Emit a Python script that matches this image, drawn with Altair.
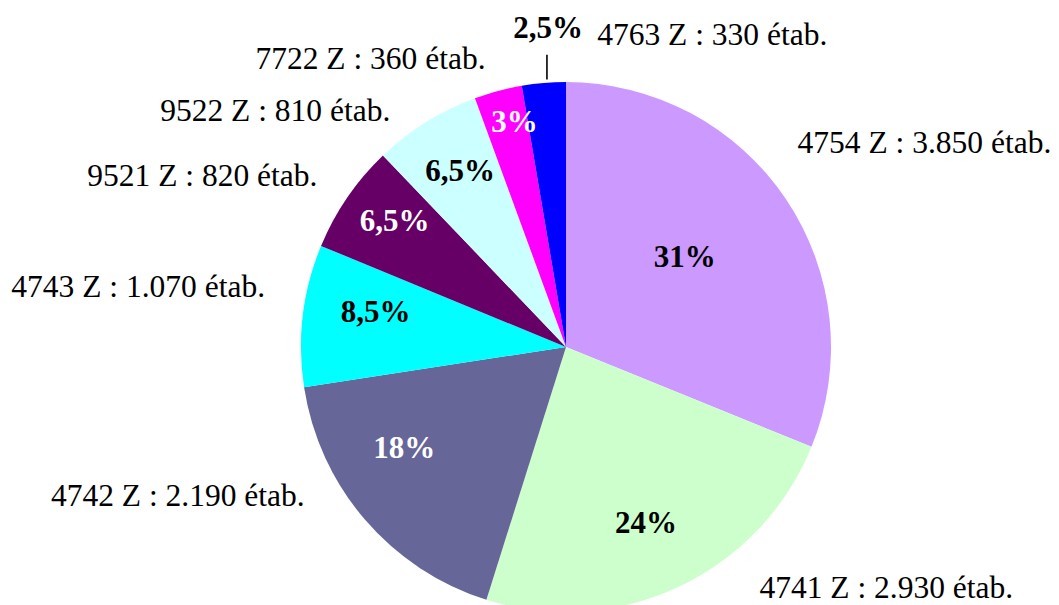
import math
import altair as alt
import pandas as pd

# ---- data ----
codes = ["4754 Z", "4741 Z", "4742 Z", "4743 Z", "9521 Z", "9522 Z", "7722 Z", "4763 Z"]
etab = [3850, 2930, 2190, 1070, 820, 810, 360, 330]
etab_text = ["3.850", "2.930", "2.190", "1.070", "820", "810", "360", "330"]
pct_text = ["31%", "24%", "18%", "8,5%", "6,5%", "6,5%", "3%", "2,5%"]

# ---- styles / layout ----
colors = ["#CC99FF", "#CCFFCC", "#666699", "#00FFFF", "#660066", "#CCFFFF", "#FF00FF", "#0000FF"]
pct_color = ["black", "black", "white", "black", "white", "black", "white", "black"]
pct_radius = [143, 202, 196, 192, 207, 197, 221, 310]
pct_nudge = [0, 1.9, 6.2, 0.5, -0.2, -0.6, 1.4, 1.5]          # degrees
lab_radius = [302, 317, 306, 305, 296, 286, 289, 304]
lab_nudge = [-6.0, -12.4, 9.3, 2.5, -1.5, -6.0, -1.3, 10.7]   # degrees
lab_side = ["left", "left", "right", "right", "right", "right", "right", "left"]

CX, CY, R = 558, 339, 265
FONT = "Liberation Serif"

total = sum(etab)
rows = []
cum = 0
for i, v in enumerate(etab):
    mid = (cum + v / 2) / total * 2 * math.pi
    cum += v
    rows.append({
        "idx": i,
        "code": codes[i],
        "etab": v,
        "label": f"{codes[i]} : {etab_text[i]} étab.",
        "pct": pct_text[i],
        "pcol": pct_color[i],
        "pr": pct_radius[i],
        "pth": mid + math.radians(pct_nudge[i]),
        "lr": lab_radius[i],
        "lth": mid + math.radians(lab_nudge[i]),
        "side": lab_side[i],
        "mid": mid,
    })
df = pd.DataFrame(rows)

base = alt.Chart(df)

pie = base.mark_arc(radius=R, strokeWidth=0).encode(
    theta=alt.Theta("etab:Q", stack=True),
    order=alt.Order("idx:Q"),
    color=alt.Color("code:N", scale=alt.Scale(domain=codes, range=colors), legend=None),
    x=alt.value(CX),
    y=alt.value(CY),
)

pct = base.mark_text(font=FONT, fontSize=31, fontWeight="bold", align="center", baseline="alphabetic").encode(
    theta=alt.Theta("pth:Q", scale=None),
    radius=alt.Radius("pr:Q", scale=None),
    text="pct:N",
    color=alt.Color("pcol:N", scale=None),
    x=alt.value(CX),
    y=alt.value(CY),
)

lab_left = base.transform_filter(alt.datum.side == "left").mark_text(
    font=FONT, fontSize=31.5, align="left", baseline="alphabetic", color="black"
).encode(
    theta=alt.Theta("lth:Q", scale=None),
    radius=alt.Radius("lr:Q", scale=None),
    text="label:N",
    x=alt.value(CX),
    y=alt.value(CY),
)

lab_right = base.transform_filter(alt.datum.side == "right").mark_text(
    font=FONT, fontSize=31.5, align="right", baseline="alphabetic", color="black"
).encode(
    theta=alt.Theta("lth:Q", scale=None),
    radius=alt.Radius("lr:Q", scale=None),
    text="label:N",
    x=alt.value(CX),
    y=alt.value(CY),
)

# vertical leader line for the smallest slice (its percentage sits outside)
leader = base.transform_filter(alt.datum.idx == 7).transform_calculate(
    lx=f"{CX} + 281 * sin(datum.mid + 0.016)",
    ly1=f"{CY} - 268 * cos(datum.mid + 0.016)",
    ly2=f"{CY} - 293 * cos(datum.mid + 0.016)",
).mark_rule(color="black", strokeWidth=1.6).encode(
    x=alt.X("lx:Q", scale=None),
    y=alt.Y("ly1:Q", scale=None),
    y2="ly2:Q",
)

chart = alt.layer(pie, leader, pct, lab_left, lab_right).resolve_scale(
    theta="independent", color="independent"
).properties(
    width=1043, height=597, padding=0, autosize=alt.AutoSizeParams(type="none")
).configure_view(stroke=None)

chart.save("out.html", embed_options={"renderer": "svg", "actions": False})
